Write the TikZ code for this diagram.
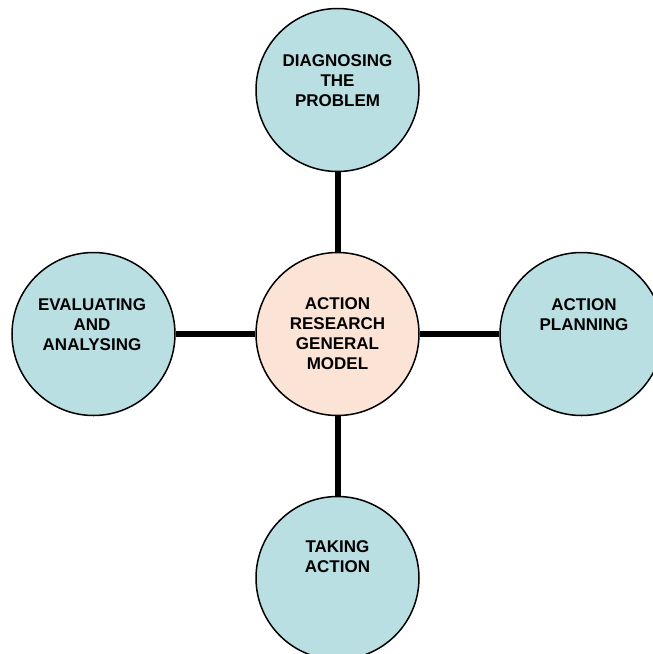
\documentclass[tikz,border=0pt]{standalone}
\usepackage{fontspec}
\setmainfont{Liberation Sans}
\definecolor{outerfill}{RGB}{185,223,226}
\definecolor{centerfill}{RGB}{251,227,213}
\tikzset{
  bubble/.style={circle, draw=black, line width=1.5pt, minimum size=163pt, inner sep=0pt},
  outerbubble/.style={bubble, fill=outerfill},
  centerbubble/.style={bubble, fill=centerfill, align=center, font=\bfseries\fontsize{17}{20}\selectfont},
  label text/.style={anchor=north, inner sep=0pt, align=center, font=\bfseries\fontsize{17}{20}\selectfont},
  link/.style={line width=6pt, draw=black}
}
\begin{document}
\begin{tikzpicture}[x=1pt,y=-1pt]
\useasboundingbox (0,0) rectangle (653,654);
\clip (0,0) rectangle (653,654);
\node[outerbubble] (top) at (337.5,90) {};
\node[centerbubble] (mid) at (337.5,334) {ACTION\\RESEARCH\\GENERAL\\MODEL};
\node[outerbubble] (left) at (93.5,334) {};
\node[outerbubble] (right) at (581.5,334) {};
\node[outerbubble] (bottom) at (337.5,578) {};
\draw[link] (top) -- (mid);
\draw[link] (mid) -- (bottom);
\draw[link] (left) -- (mid);
\draw[link] (mid) -- (right);
\node[label text] (toptext) at (337.5,54) {DIAGNOSING\\THE\\PROBLEM};
\node[label text] (lefttext) at (92,298) {EVALUATING\\AND\\ANALYSING};
\node[label text] (righttext) at (584,298) {ACTION\\PLANNING};
\node[label text] (bottomtext) at (337.5,540) {TAKING\\ACTION};
\end{tikzpicture}
\end{document}
